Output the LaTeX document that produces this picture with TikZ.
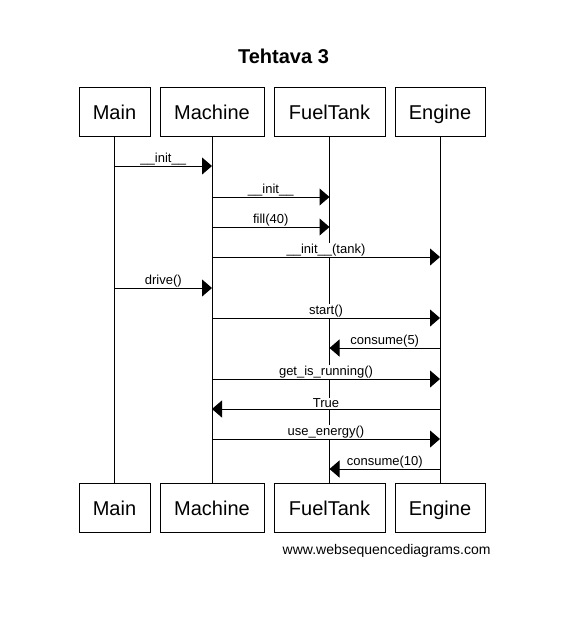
\documentclass[tikz,border=0pt]{standalone}
\usepackage{fontspec}
\setmainfont{Liberation Sans}
\usetikzlibrary{arrows.meta}

\tikzset{
  actor/.style={draw, minimum height=49pt, inner xsep=2pt, text height=15pt, text depth=0pt, font=\fontsize{20}{24}\selectfont},
  msg/.style={-{Triangle[length=10pt,width=17pt]}},
  msglabel/.style={above, fill=white, inner sep=0.6pt, font=\fontsize{13}{15}\selectfont}
}

\begin{document}
\begin{tikzpicture}[x=1pt, y=-1pt, line width=1pt]
\useasboundingbox (0,0) rectangle (567,619);
% Draw title
\node[font=\bfseries\fontsize{20}{24}\selectfont] (title) at (283.5,56) {Tehtava 3};
% Draw actor boxes on top
\node[actor, minimum width=71pt] (topMain) at (114.5,111.5) {Main};
\node[actor, minimum width=104pt] (topMachine) at (212,111.5) {Machine};
\node[actor, minimum width=111pt] (topFuelTank) at (329.5,111.5) {FuelTank};
\node[actor, minimum width=90pt] (topEngine) at (440,111.5) {Engine};
% Draw actor boxes at bottom
\node[actor, minimum width=71pt] (botMain) at (114.5,507.5) {Main};
\node[actor, minimum width=104pt] (botMachine) at (212,507.5) {Machine};
\node[actor, minimum width=111pt] (botFuelTank) at (329.5,507.5) {FuelTank};
\node[actor, minimum width=90pt] (botEngine) at (440,507.5) {Engine};
% Draw lifelines
\draw (topMain) -- (botMain);
\draw (topMachine) -- (botMachine);
\draw (topFuelTank) -- (botFuelTank);
\draw (topEngine) -- (botEngine);
% Rows of the messages
\coordinate (m1) at (0,166);
\coordinate (m2) at (0,197);
\coordinate (m3) at (0,227);
\coordinate (m4) at (0,257);
\coordinate (m5) at (0,288);
\coordinate (m6) at (0,318);
\coordinate (m7) at (0,348);
\coordinate (m8) at (0,379);
\coordinate (m9) at (0,409);
\coordinate (m10) at (0,439);
\coordinate (m11) at (0,469);
% Draw messages
\draw[msg] (topMain |- m1) -- (topMachine |- m1) node[msglabel, midway] {\_\_init\_\_};
\draw[msg] (topMachine |- m2) -- (topFuelTank |- m2) node[msglabel, midway] {\_\_init\_\_};
\draw[msg] (topMachine |- m3) -- (topFuelTank |- m3) node[msglabel, midway] {fill(40)};
\draw[msg] (topMachine |- m4) -- (topEngine |- m4) node[msglabel, midway] {\_\_init\_\_(tank)};
\draw[msg] (topMain |- m5) -- (topMachine |- m5) node[msglabel, midway] {drive()};
\draw[msg] (topMachine |- m6) -- (topEngine |- m6) node[msglabel, midway] {start()};
\draw[msg] (topEngine |- m7) -- (topFuelTank |- m7) node[msglabel, midway] {consume(5)};
\draw[msg] (topMachine |- m8) -- (topEngine |- m8) node[msglabel, midway] {get\_is\_running()};
\draw[msg] (topEngine |- m9) -- (topMachine |- m9) node[msglabel, midway] {True};
\draw[msg] (topMachine |- m10) -- (topEngine |- m10) node[msglabel, midway] {use\_energy()};
\draw[msg] (topEngine |- m11) -- (topFuelTank |- m11) node[msglabel, midway] {consume(10)};
% Footer
\node[anchor=east, inner sep=0pt, font=\fontsize{14}{17}\selectfont] (footer) at (491,551) {www.websequencediagrams.com};
\end{tikzpicture}
\end{document}
